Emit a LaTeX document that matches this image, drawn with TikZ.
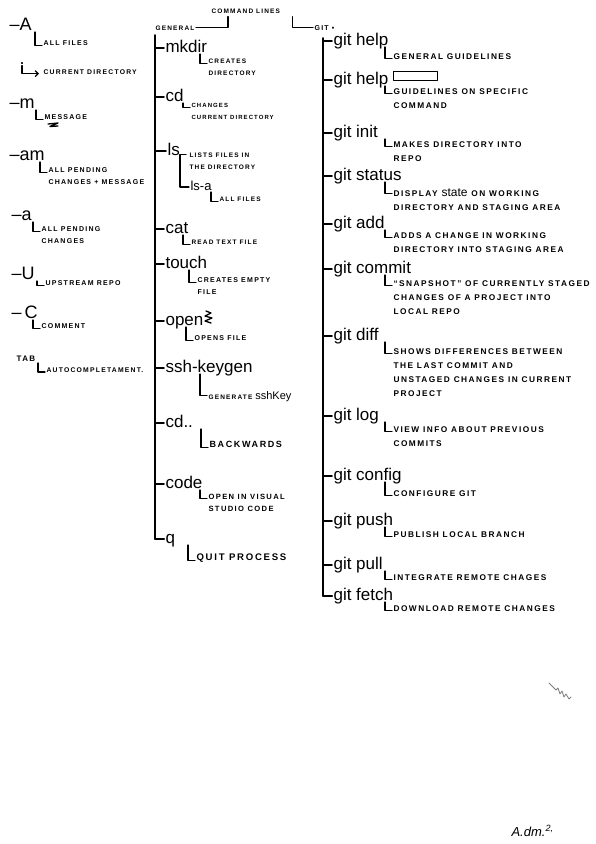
\documentclass[tikz,border=0pt]{standalone}
\usepackage{fontspec}
\setmainfont{Liberation Sans}
\newfontfamily\notefont[LetterSpace=18]{Liberation Sans}
\usetikzlibrary{arrows.meta, positioning, calc}
\tikzset{
  every picture/.style={line width=1.1pt, line cap=round, line join=round},
  cmd/.style={font=\fontsize{17}{17}\selectfont, anchor=base west, inner sep=1pt},
  flag/.style={font=\fontsize{18}{18}\selectfont, anchor=base west, inner sep=1pt},
  head/.style={font=\notefont\bfseries\fontsize{6.5}{8}\selectfont, anchor=base west, inner sep=1pt},
  note/.style={font=\notefont\bfseries\fontsize{#1}{12}\selectfont, align=left, anchor=north west, inner sep=1pt},
  note/.default=7,
  gnote/.style={font=\notefont\bfseries\fontsize{8.3}{14}\selectfont, align=left, anchor=north west, inner sep=1pt},
  trunk/.style={line width=1.7pt},
  hook/.style={line width=1.2pt},
  slot/.style={draw, line width=1.3pt, minimum width=44pt, minimum height=9pt, inner sep=0pt},
  scrawl/.style={line width=1.3pt},
}

\begin{document}
\begin{tikzpicture}[x=1pt, y=-1pt]
  \fill[white] (0,0) rectangle (596,844);
  \useasboundingbox (0,0) rectangle (596,844);
  % headings
  \node[head] (title) at (210,13) {COMMAND LINES};
  \node[head] (general) at (154,30) {GENERAL};
  \node[head, font=\notefont\bfseries\fontsize{7}{8}\selectfont] (git) at (313,30) {GIT \textbullet};
  \draw[hook] (general.east) -| ([xshift=18pt,yshift=-2pt]title.south west);
  \draw[hook] ([xshift=11pt,yshift=-2pt]title.south east) |- (git.west);

  % options, left column
  \foreach \fl/\xf/\yf/\txt/\xt/\yt [count=\i] in {
    \textendash A/8/30/ALL FILES/42/43,
    \textendash m/8/108/MESSAGE/43/117,
    \textendash am/8/160/{ALL PENDING\\CHANGES + MESSAGE}/47/170,
    \textendash a/10/220/{ALL PENDING\\CHANGES}/40/229,
    \textendash U/10/279/UPSTREAM REPO/44/283,
    \textendash\,C/10/318/COMMENT/40/326} {
    \node[flag] (f\i) at (\xf,\yf) {\fl};
    \node[note] (fd\i) at (\xt,\yt-3.6) {\txt};
    \draw[hook] ([xshift=-7pt,yshift=-2pt]f\i.base -| fd\i.west) |- ([yshift=-6pt]fd\i.north west);
  }
  \node[flag] (dot) at (18,64) {.};
  \node[note=6.8] (dotd) at (42,72-3.4) {CURRENT DIRECTORY};
  \draw[hook, -{Straight Barb[length=3pt]}] (dot.south) |- ([xshift=-3pt,yshift=-5pt]dotd.north west);
  \node[head, font=\notefont\bfseries\fontsize{8}{8}\selectfont] (tab) at (15,361) {TAB};
  \node[note=6.8] (tabd) at (45,370-3.5) {AUTOCOMPLETAMENT.};
  \draw[hook] ([xshift=-7pt,yshift=-2pt]tab.base -| tabd.west) |- ([yshift=-5.5pt]tabd.north west);
  \draw[scrawl] (48,124) -- (58,123) -- (50,126.5) -- (58,126);

  % general commands
  \coordinate (gentop) at (155,35);
  \foreach \cmd/\yb/\txt/\xt/\yt/\sz [count=\i] in {
    mkdir/52/{CREATES\\DIRECTORY}/207/61/6.5,
    cd/101/{CHANGES\\CURRENT DIRECTORY}/190/105/6,
    cat/233/READ TEXT FILE/190/242/6.5,
    touch/268/{CREATES EMPTY\\FILE}/196/280/7,
    open/325/OPENS FILE/193/338/7,
    ssh-keygen/372/{GENERATE {\normalfont\fontsize{11}{11}\selectfont sshKey}}/207/393/6.5,
    cd../427/BACKWARDS/208/444/9,
    code/488/{OPEN IN VISUAL\\STUDIO CODE}/207/496/7.6,
    q/543/QUIT PROCESS/195/557/9.6} {
    \node[cmd] (m\i) at (164,\yb) {\cmd};
    \node[note=\sz] (md\i) at (\xt,\yt-0.5*\sz) {\txt};
    \draw[trunk] ([yshift=4pt]m\i.base west -| gentop) -- ([yshift=4pt]m\i.base west);
    \draw[hook] ([xshift=-7pt,yshift=-2pt]m\i.base -| md\i.west) |- ([yshift=-0.85*\sz pt]md\i.north west);
  }
  \node[cmd] (ls) at (166,155) {ls};
  \draw[trunk] ([yshift=4pt]ls.base west -| gentop) -- ([yshift=4pt]ls.base west);
  \node[note=6.5] (lsd) at (188,155-3.4) {LISTS FILES IN\\THE DIRECTORY};
  \node[cmd, font=\fontsize{13}{13}\selectfont] (lsa) at (189,190) {ls-a};
  \node[note=6.5] (lsad) at (218,199-3.4) {ALL FILES};
  \draw[hook] ([xshift=-2pt,yshift=-3pt]lsd.north west) -- ++(-6,0) |- ([yshift=3pt]lsa.base west);
  \draw[hook] ([xshift=-7pt,yshift=-2pt]lsa.base -| lsad.west) |- ([yshift=-5.5pt]lsad.north west);
  \draw[trunk] (gentop) |- ([yshift=4pt]m9.base west);
  \draw[scrawl] (206,311) -- (211,313) -- (205,316) -- (212,318) -- (205,321) -- (211,323);

  % git commands
  \coordinate (gittop) at (323,38);
  \foreach \cmd/\yb/\txt/\yt [count=\i] in {
    git help/45/GENERAL GUIDELINES/56,
    git help/84/{GUIDELINES ON SPECIFIC\\COMMAND}/91,
    git init/137/{MAKES DIRECTORY INTO\\REPO}/144,
    git status/180/{DISPLAY {\normalfont\fontsize{12}{12}\selectfont state} ON WORKING\\DIRECTORY AND STAGING AREA}/191,
    git add/228/{ADDS A CHANGE IN WORKING\\DIRECTORY INTO STAGING AREA}/235,
    git commit/273/{“SNAPSHOT” OF CURRENTLY STAGED\\CHANGES OF A PROJECT INTO\\LOCAL REPO}/283,
    git diff/340/{SHOWS DIFFERENCES BETWEEN\\THE LAST COMMIT AND\\UNSTAGED CHANGES IN CURRENT\\PROJECT}/351,
    git log/420/{VIEW INFO ABOUT PREVIOUS\\COMMITS}/429,
    git config/480/CONFIGURE GIT/493,
    git push/525/PUBLISH LOCAL BRANCH/534,
    git pull/569/INTEGRATE REMOTE CHAGES/577,
    git fetch/600/DOWNLOAD REMOTE CHANGES/608} {
    \node[cmd] (g\i) at (332,\yb) {\cmd};
    \node[gnote] (gd\i) at (392,\yt-4) {\txt};
    \draw[trunk] ([yshift=4pt]g\i.base west -| gittop) -- ([yshift=4pt]g\i.base west);
    \draw[hook] ([xshift=-7pt,yshift=-2pt]g\i.base -| gd\i.west) |- ([yshift=-6.8pt]gd\i.north west);
  }
  \draw[trunk] (gittop) |- ([yshift=4pt]g12.base west);
  \node[slot, anchor=south west] (box) at ([xshift=3pt,yshift=3pt]g2.base east) {};

  % marks at the bottom
  \draw[line width=0.8pt, gray] (549,683) -- (556,690) -- (558,688) -- (560,694) -- (562,691) -- (564,697) -- (566,694) -- (569,699) -- (571,697);
  \node[font=\itshape\fontsize{13}{13}\selectfont, anchor=base west, inner sep=1pt] (sign) at (510,836) {A.dm.\textsuperscript{2,}};
\end{tikzpicture}
\end{document}
